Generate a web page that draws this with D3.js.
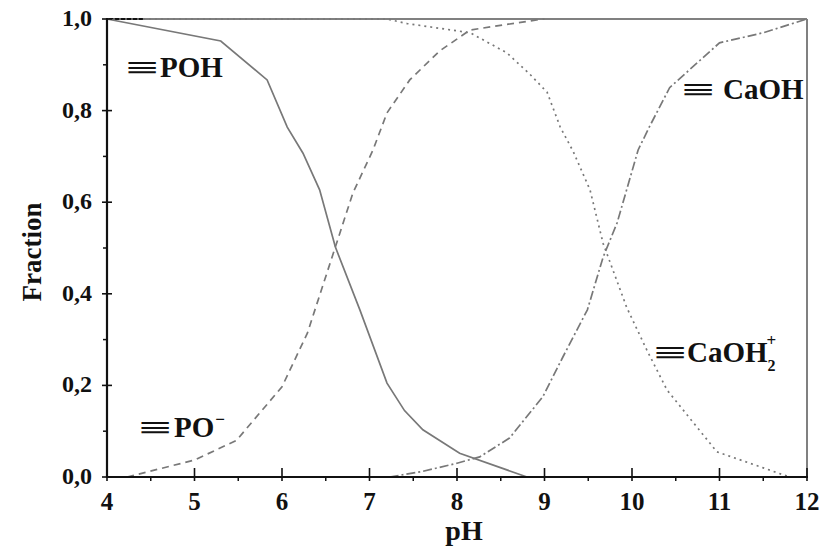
<!DOCTYPE html>
<html>
<head>
<meta charset="utf-8">
<script src="https://cdn.jsdelivr.net/npm/d3@7"></script>
<style>
  body { margin: 0; background: #fff; }
  svg text { font-family: "Liberation Serif", "Times New Roman", Times, serif; font-weight: bold; fill: #111; }
</style>
</head>
<body>
<div id="chart"></div>
<script>
// series (pH, fraction)
var pohPH   = [4.0, 5.3, 5.83, 6.06, 6.24, 6.43, 6.61, 6.89, 7.2, 7.4, 7.61, 8.03, 8.8];
var pohVal  = [1.0, 0.952, 0.867, 0.764, 0.707, 0.627, 0.502, 0.365, 0.205, 0.145, 0.103, 0.052, 0.0];
var poPH    = [4.23, 5.0, 5.48, 6.0, 6.29, 6.47, 6.81, 7.04, 7.2, 7.46, 7.8, 8.15, 8.53, 8.91, 9.0];
var poVal   = [0.0, 0.037, 0.08, 0.197, 0.314, 0.42, 0.62, 0.714, 0.795, 0.867, 0.93, 0.976, 0.987, 0.998, 1.0];
var caoh2PH = [4.0, 7.2, 7.43, 8.15, 8.57, 8.83, 9.03, 9.18, 9.33, 9.52, 9.67, 9.94, 10.17, 10.4, 10.97, 11.5, 11.8];
var caoh2Val= [1.0, 1.0, 0.99, 0.97, 0.926, 0.88, 0.84, 0.764, 0.71, 0.627, 0.51, 0.37, 0.277, 0.19, 0.055, 0.02, 0.0];
var caohPH  = [7.23, 7.6, 8.0, 8.26, 8.6, 8.98, 9.21, 9.49, 9.67, 9.83, 10.07, 10.2, 10.43, 11.0, 11.5, 12.0];
var caohVal = [0.0, 0.012, 0.03, 0.044, 0.085, 0.175, 0.262, 0.365, 0.48, 0.555, 0.714, 0.765, 0.85, 0.948, 0.97, 1.0];
var xTicks = [4, 5, 6, 7, 8, 9, 10, 11, 12];
var yTicks = [0, 0.2, 0.4, 0.6, 0.8, 1.0];

var W = 824, H = 548;
var svg = d3.select("#chart").append("svg").attr("width", W).attr("height", H);

var x = d3.scaleLinear().domain([4, 12]).range([107, 807]);
var y = d3.scaleLinear().domain([0, 1]).range([477, 19]);

function zip(a, b) { return a.map(function(v, i) { return [v, b[i]]; }); }
var line = d3.line().x(function(d) { return x(d[0]); }).y(function(d) { return y(d[1]); });

// frame: top and right in grey
svg.append("line").attr("x1", x(4)).attr("x2", x(12)).attr("y1", y(1)).attr("y2", y(1))
  .attr("stroke", "#808080").attr("stroke-width", 2);
svg.append("line").attr("x1", x(12)).attr("x2", x(12)).attr("y1", y(1)).attr("y2", y(0))
  .attr("stroke", "#808080").attr("stroke-width", 2);
svg.append("line").attr("x1", x(4)).attr("x2", x(4.41)).attr("y1", y(1)).attr("y2", y(1))
  .attr("stroke", "#111").attr("stroke-width", 2);

var series = [
  {d: zip(pohPH, pohVal), dash: null},
  {d: zip(poPH, poVal), dash: "7,5"},
  {d: zip(caoh2PH, caoh2Val), dash: "2,4"},
  {d: zip(caohPH, caohVal), dash: "9,3,2,3"}
];
series.forEach(function(s) {
  svg.append("path").attr("d", line(s.d)).attr("fill", "none")
    .attr("stroke", "#787878").attr("stroke-width", 1.7)
    .attr("stroke-dasharray", s.dash);
});

// x axis
var gx = svg.append("g");
gx.append("line").attr("x1", x(4) - 1).attr("x2", x(12) + 1).attr("y1", y(0)).attr("y2", y(0))
  .attr("stroke", "#111").attr("stroke-width", 2.2);
d3.range(4.5, 12, 1).forEach(function(t) {
  gx.append("line").attr("x1", x(t)).attr("x2", x(t)).attr("y1", y(0)).attr("y2", y(0) + 4)
    .attr("stroke", "#111").attr("stroke-width", 1.5);
});
xTicks.forEach(function(t) {
  gx.append("line").attr("x1", x(t)).attr("x2", x(t)).attr("y1", y(0) - 9).attr("y2", y(0) + 4)
    .attr("stroke", "#111").attr("stroke-width", 1.6);
  gx.append("text").attr("x", x(t)).attr("y", 510).attr("text-anchor", "middle")
    .attr("font-size", 25).text(t);
});
svg.append("text").attr("x", 464).attr("y", 540).attr("text-anchor", "middle")
  .attr("font-size", 28).text("pH");

// y axis
var gy = svg.append("g");
gy.append("line").attr("x1", x(4)).attr("x2", x(4)).attr("y1", y(1) - 1).attr("y2", y(0) + 1)
  .attr("stroke", "#111").attr("stroke-width", 2.2);
d3.range(0.1, 1, 0.2).forEach(function(t) {
  gy.append("line").attr("x1", x(4) - 4).attr("x2", x(4)).attr("y1", y(t)).attr("y2", y(t))
    .attr("stroke", "#111").attr("stroke-width", 1.5);
});
yTicks.forEach(function(t) {
  gy.append("line").attr("x1", x(4) - 5).attr("x2", x(4) + 5).attr("y1", y(t)).attr("y2", y(t))
    .attr("stroke", "#111").attr("stroke-width", 1.6);
  gy.append("text").attr("x", 92).attr("y", y(t) + 7).attr("text-anchor", "end")
    .attr("font-size", 24).text(d3.format(".1f")(t).replace(".", ","));
});
svg.append("text").attr("transform", "translate(41,252) rotate(-90)").attr("text-anchor", "middle")
  .attr("font-size", 27).text("Fraction");

// species labels
function label(tx, ty, bx, main, sub, sup) {
  svg.append("text").attr("transform", "translate(" + bx + "," + ty + ") scale(2.1,1)")
    .attr("font-size", 28).text("≡");
  var t = svg.append("text").attr("x", tx).attr("y", ty).attr("font-size", 29);
  t.append("tspan").text(main);
  if (sub) t.append("tspan").attr("font-size", 16).attr("dy", 9).text(sub);
  if (sup) t.append("tspan").attr("font-size", 17).attr("dx", sub ? -9 : 1).attr("dy", sub ? -25 : -12).text(sup);
}
label(160, 77, 126, "POH");
label(723, 99, 682, "CaOH");
label(687, 362, 654, "CaOH", "2", "+");
label(174, 437, 139, "PO", null, "−");
</script>
</body>
</html>
